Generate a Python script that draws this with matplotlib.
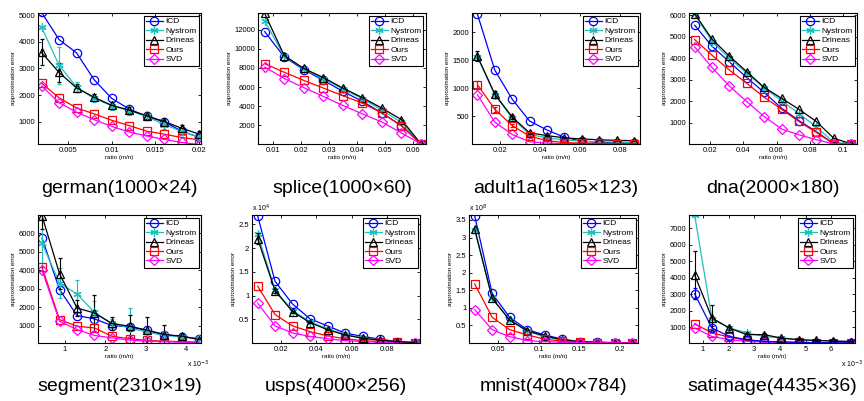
import matplotlib
matplotlib.use('Agg')
import matplotlib.pyplot as plt
from matplotlib.lines import Line2D
from matplotlib.ticker import FuncFormatter

plt.rcParams['font.family'] = ['Liberation Sans', 'DejaVu Sans']

# datos (10 puntos por conjunto, splice tiene 9)
german_x = [0.002, 0.004, 0.006, 0.008, 0.010, 0.012, 0.014, 0.016, 0.018, 0.020]
german_icd = [5100, 4080, 3580, 2580, 1880, 1480, 1200, 1000, 650, 420]
german_nys = [4550, 3120, 2300, 1880, 1600, 1420, 1200, 900, 640, 420]
german_dri = [3600, 2850, 2270, 1920, 1620, 1440, 1230, 1010, 760, 540]
german_ours = [2450, 1900, 1520, 1300, 1060, 860, 650, 540, 410, 330]
german_svd = [2350, 1720, 1360, 1080, 830, 620, 470, 340, 230, 150]
german_nys_err = [0, 690, 200, 150, 150, 150, 150, 150, 120, 100]
german_dri_err = [490, 340, 150, 130, 130, 130, 130, 130, 130, 100]

splice_x = [0.007, 0.014, 0.021, 0.028, 0.035, 0.042, 0.049, 0.056, 0.063]
splice_icd = [11800, 9150, 7830, 6710, 5560, 4510, 3290, 1960, 60]
splice_nys = [12900, 9250, 7900, 6900, 5800, 4800, 3600, 2300, 60]
splice_dri = [13700, 9300, 7950, 7000, 5900, 4900, 3800, 2600, 60]
splice_ours = [8450, 7550, 6700, 5900, 5100, 4330, 3300, 1950, 60]
splice_svd = [8100, 6900, 5950, 5030, 4080, 3200, 2350, 1200, 60]

adult_x = [0.0087, 0.0174, 0.0261, 0.0348, 0.0435, 0.0522, 0.0609, 0.0696, 0.0783, 0.087]
adult_icd = [2320, 1320, 800, 410, 250, 120, 50, 30, 20, 15]
adult_nys = [1560, 880, 460, 170, 110, 70, 50, 40, 35, 30]
adult_dri = [1570, 890, 480, 200, 150, 110, 90, 75, 65, 60]
adult_ours = [1060, 620, 330, 140, 60, 25, 15, 10, 8, 5]
adult_svd = [880, 390, 170, 40, 15, 8, 5, 3, 2, 1]
adult_dri_err = [90, 60, 40, 20, 15, 10, 10, 10, 10, 10]
adult_ours_err = [60, 40, 20, 10, 5, 5, 5, 5, 5, 5]

dna_x = [0.0105, 0.021, 0.0315, 0.042, 0.0525, 0.063, 0.0735, 0.084, 0.0945, 0.105]
dna_icd = [5540, 4560, 3830, 3100, 2410, 1670, 1090, 580, 10, 10]
dna_nys = [6050, 4780, 4000, 3300, 2620, 2020, 1420, 800, 80, 10]
dna_dri = [6080, 4890, 4100, 3370, 2640, 2130, 1620, 1050, 270, 10]
dna_ours = [4870, 4140, 3450, 2830, 2180, 1620, 1050, 540, 10, 10]
dna_svd = [4530, 3570, 2700, 1980, 1280, 700, 430, 200, 10, 10]

segment_x = [0.433, 0.866, 1.30, 1.73, 2.16, 2.60, 3.03, 3.46, 3.90, 4.33]  # x 10^-3
segment_icd = [5750, 2950, 1540, 1360, 1000, 930, 730, 510, 390, 280]
segment_nys = [5470, 3300, 2710, 1720, 1110, 870, 640, 460, 390, 270]
segment_dri = [6950, 3810, 1950, 1680, 1110, 960, 750, 510, 420, 240]
segment_ours = [4170, 1320, 960, 870, 420, 280, 190, 150, 120, 100]
segment_svd = [3990, 1230, 780, 460, 330, 210, 150, 120, 90, 70]
segment_nys_err = [1300, 800, 750, 600, 250, 1100, 300, 250, 150, 50]
segment_dri_err = [700, 850, 450, 1000, 350, 630, 720, 500, 150, 50]

usps_x = [0.007, 0.0168, 0.0267, 0.0365, 0.0464, 0.0562, 0.0661, 0.0759, 0.0858, 0.0956]
usps_icd = [2.68, 1.30, 0.82, 0.51, 0.36, 0.21, 0.14, 0.08, 0.03, 0.01]  # x 10^4
usps_nys = [2.30, 1.12, 0.68, 0.45, 0.30, 0.18, 0.11, 0.06, 0.03, 0.01]
usps_dri = [2.20, 1.10, 0.66, 0.43, 0.28, 0.17, 0.10, 0.06, 0.03, 0.01]
usps_ours = [1.20, 0.60, 0.36, 0.24, 0.15, 0.09, 0.05, 0.03, 0.015, 0.005]
usps_svd = [0.84, 0.36, 0.21, 0.14, 0.09, 0.05, 0.03, 0.015, 0.008, 0.003]
usps_dri_err = [0.12, 0.04, 0.02, 0.01, 0.01, 0.01, 0.01, 0.01, 0.01, 0.0]

mnist_x = [0.0215, 0.043, 0.0645, 0.086, 0.1075, 0.129, 0.1505, 0.172, 0.1935, 0.215]
mnist_icd = [3.62, 1.41, 0.73, 0.38, 0.23, 0.11, 0.04, 0.02, 0.01, 0.005]  # x 10^8
mnist_nys = [3.20, 1.28, 0.66, 0.33, 0.18, 0.08, 0.03, 0.015, 0.008, 0.004]
mnist_dri = [3.25, 1.27, 0.65, 0.35, 0.20, 0.09, 0.04, 0.02, 0.01, 0.005]
mnist_ours = [1.68, 0.73, 0.38, 0.23, 0.11, 0.05, 0.02, 0.01, 0.005, 0.003]
mnist_svd = [0.95, 0.38, 0.18, 0.07, 0.04, 0.02, 0.01, 0.005, 0.003, 0.002]

sat_x = [0.676, 1.35, 2.03, 2.71, 3.38, 4.06, 4.74, 5.41, 6.09, 6.76]  # x 10^-3
sat_icd = [3020, 940, 430, 230, 130, 90, 70, 50, 40, 30]
sat_nys = [7800, 1500, 940, 640, 430, 330, 230, 170, 140, 120]
sat_dri = [4170, 1550, 940, 540, 540, 330, 230, 190, 150, 120]
sat_ours = [1200, 640, 390, 190, 120, 90, 70, 50, 40, 30]
sat_svd = [940, 430, 230, 130, 90, 60, 40, 30, 20, 10]
sat_icd_err = [330, 100, 50, 30, 20, 10, 10, 10, 10, 10]
sat_dri_err = [1450, 800, 150, 100, 100, 60, 40, 30, 20, 20]

metodos = ['ICD', 'Nystrom', 'Drineas', 'Ours', 'SVD']
colores = ['#0000ff', '#20c0c0', '#000000', '#ff0000', '#ff00ff']
marcadores = ['o', (6, 2, 0), '^', 's', 'D']
tamanos = [6, 6, 6, 5.5, 5]

# cada panel: titulo, x, series, errores, xlim, ylim, xticks, yticks, caja en pixeles, exponentes
paneles = [
  ('german(1000\u00d724)', german_x, [german_icd, german_nys, german_dri, german_ours, german_svd],
   [None, german_nys_err, german_dri_err, None, None],
   (0.0016, 0.0202), (170, 5075), [0.005, 0.01, 0.015, 0.02], [1000, 2000, 3000, 4000, 5000],
   (38, 13, 201, 144), None, None),
  ('splice(1000\u00d760)', splice_x, [splice_icd, splice_nys, splice_dri, splice_ours, splice_svd],
   [None] * 5,
   (0.0046, 0.0648), (50, 13750), [0.01, 0.02, 0.03, 0.04, 0.05, 0.06], [2000, 4000, 6000, 8000, 10000, 12000],
   (258, 13, 426, 144), None, None),
  ('adult1a(1605\u00d7123)', adult_x, [adult_icd, adult_nys, adult_dri, adult_ours, adult_svd],
   [None, None, adult_dri_err, adult_ours_err, None],
   (0.006, 0.090), (0, 2340), [0.02, 0.04, 0.06, 0.08], [500, 1000, 1500, 2000],
   (472, 13, 640, 144), None, None),
  ('dna(2000\u00d7180)', dna_x, [dna_icd, dna_nys, dna_dri, dna_ours, dna_svd],
   [None] * 5,
   (0.0071, 0.1086), (0, 6110), [0.02, 0.04, 0.06, 0.08, 0.1], [1000, 2000, 3000, 4000, 5000, 6000],
   (689, 13, 857, 144), None, None),
  ('segment(2310\u00d719)', segment_x, [segment_icd, segment_nys, segment_dri, segment_ours, segment_svd],
   [None, segment_nys_err, segment_dri_err, None, None],
   (0.333, 4.37), (50, 7000), [1, 2, 3, 4], [1000, 2000, 3000, 4000, 5000, 6000],
   (38, 215, 201, 343), 'x 10$^{-3}$', None),
  ('usps(4000\u00d7256)', usps_x, [usps_icd, usps_nys, usps_dri, usps_ours, usps_svd],
   [None, None, usps_dri_err, None, None],
   (0.0038, 0.0985), (0, 2.7), [0.02, 0.04, 0.06, 0.08], [0.5, 1, 1.5, 2, 2.5],
   (252, 215, 420, 343), None, 'x 10$^{4}$'),
  ('mnist(4000\u00d7784)', mnist_x, [mnist_icd, mnist_nys, mnist_dri, mnist_ours, mnist_svd],
   [None] * 5,
   (0.0145, 0.2224), (0, 3.64), [0.05, 0.1, 0.15, 0.2], [0.5, 1, 1.5, 2, 2.5, 3, 3.5],
   (469, 215, 638, 343), None, 'x 10$^{8}$'),
  ('satimage(4435\u00d736)', sat_x, [sat_icd, sat_nys, sat_dri, sat_ours, sat_svd],
   [sat_icd_err, None, sat_dri_err, None, None],
   (0.455, 6.93), (30, 7810), [1, 2, 3, 4, 5, 6], [1000, 2000, 3000, 4000, 5000, 6000, 7000],
   (689, 215, 855, 343), 'x 10$^{-3}$', None),
]

W, H = 864, 401
fig = plt.figure(figsize=(W / 100, H / 100), dpi=100)
fmt = FuncFormatter(lambda v, p: '%g' % v)

for titulo, x, series, errores, xl, yl, xt, yt, caja, expx, expy in paneles:
  l, t, r, b = caja
  ax = fig.add_axes([l / W, 1 - b / H, (r - l) / W, (b - t) / H])
  manejadores = []
  for nombre, ys, err, c, m, ms in zip(metodos, series, errores, colores, marcadores, tamanos):
    if err is None:
      ax.plot(x, ys, color=c, marker=m, ms=ms, mfc='none', mew=0.9, lw=0.9)
    else:
      ax.errorbar(x, ys, yerr=err, color=c, marker=m, ms=ms, mfc='none', mew=0.9,
                  lw=0.9, elinewidth=0.8, capsize=1.5)
    manejadores.append(Line2D([], [], color=c, marker=m, ms=ms, mfc='none', mew=0.9, lw=0.9))
  ax.set_xlim(xl)
  ax.set_ylim(yl)
  ax.set_xticks(xt)
  ax.set_yticks(yt)
  ax.xaxis.set_major_formatter(fmt)
  ax.yaxis.set_major_formatter(fmt)
  ax.tick_params(direction='in', length=2.5, width=0.6, labelsize=5.5, pad=2,
                 top=True, right=True)
  for s in ax.spines.values():
    s.set_linewidth(0.8)
  ax.set_xlabel('ratio (m/n)', fontsize=4.5, labelpad=1)
  ax.set_ylabel('approximation error', fontsize=4.5, labelpad=2)
  leg = ax.legend(manejadores, metodos, loc='upper right', fontsize=6, fancybox=False,
                  edgecolor='black', framealpha=1, borderpad=0.25, labelspacing=0.2,
                  handlelength=2.0, handletextpad=0.3, borderaxespad=0.3)
  leg.get_frame().set_linewidth(0.8)
  if expx:
    ax.text(0.98, -0.17, expx, transform=ax.transAxes, fontsize=5, ha='center', va='center')
  if expy:
    ax.text(0.0, 1.01, expy, transform=ax.transAxes, fontsize=5, ha='left', va='bottom')
  # nombre del conjunto debajo de cada grafica
  ax.text(0.5, -0.34, titulo, transform=ax.transAxes, fontsize=14, ha='center', va='center')

plt.savefig('out.png', dpi=100)
